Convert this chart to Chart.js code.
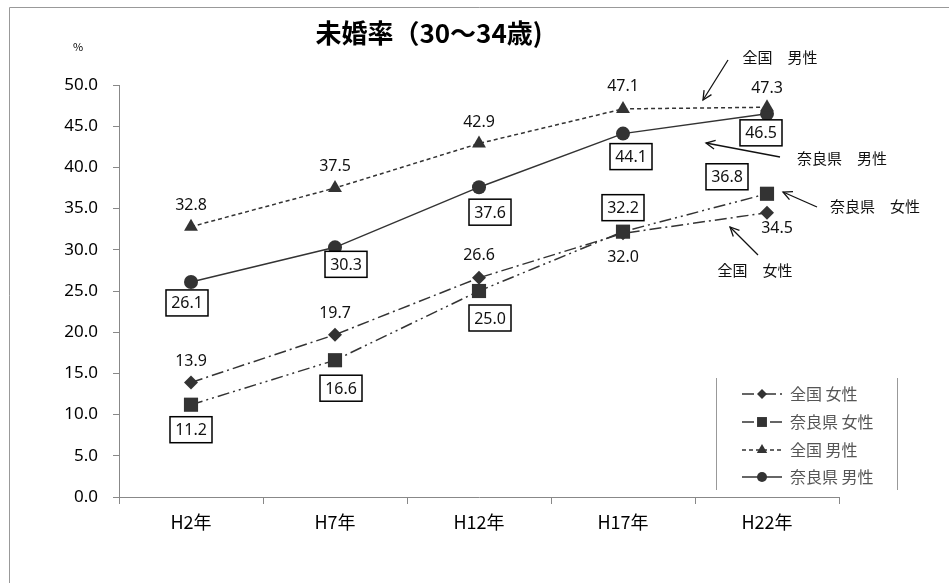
<!DOCTYPE html>
<html>
<head>
<meta charset="utf-8">
<script src="https://cdn.jsdelivr.net/npm/chart.js@4.4.1/dist/chart.umd.min.js"></script>
<style>
  html, body { margin: 0; padding: 0; background: #fff; }
  #wrap { position: relative; width: 949px; height: 583px; }
</style>
</head>
<body>
<div id="wrap"><canvas id="c" width="949" height="583"></canvas></div>
<script>
// 未婚率（30～34歳）: 全国／奈良県, 男性／女性
const categories = ['H2年', 'H7年', 'H12年', 'H17年', 'H22年'];
const zenkokuJosei = [13.9, 19.7, 26.6, 32.0, 34.5];
const naraJosei    = [11.2, 16.6, 25.0, 32.2, 36.8];
const zenkokuDansei = [32.8, 37.5, 42.9, 47.1, 47.3];
const naraDansei    = [26.1, 30.3, 37.6, 44.1, 46.5];
const yTicks = [0, 5, 10, 15, 20, 25, 30, 35, 40, 45, 50];

const JP = '"Noto Sans CJK JP", "Noto Sans", sans-serif';
const NUM = '"Noto Sans", "Open Sans", sans-serif';
const INK = '#333';

// value label placement (offset from the point, boxed or plain)
const labelOffsets = [
  { dx: [0, 0, 0, 0, 10], dy: [-22, -22, -23, 23, 15], boxed: false },
  { dx: [0, 6, 11, 0, -40], dy: [25, 28, 27, -24, -17], boxed: true },
  { dx: [0, 0, 0, 0, 0], dy: [-22, -23, -22, -23, -20], boxed: false },
  { dx: [-4, 11, 11, 8, -6], dy: [21, 17, 25, 23, 19], boxed: true }
];

const series = [
  { label: '全国 女性', data: zenkokuJosei, pointStyle: 'rectRot', pointRadius: 7, borderDash: [12, 4, 2, 4], legendRadius: 5 },
  { label: '奈良県 女性', data: naraJosei, pointStyle: 'rect', pointRadius: 10, borderDash: [12, 4, 2, 4, 2, 4], legendRadius: 7 },
  { label: '全国 男性', data: zenkokuDansei, pointStyle: 'triangle', pointRadius: 8, borderDash: [4, 3], legendRadius: 6 },
  { label: '奈良県 男性', data: naraDansei, pointStyle: 'circle', pointRadius: 7, borderDash: [], legendRadius: 5 }
];

// callouts naming each line: text position, arrow tail and head
const callouts = [
  { text: '全国　男性', tx: 780, ty: 57, x1: 728, y1: 60, x2: 703, y2: 100 },
  { text: '奈良県　男性', tx: 842, ty: 158, x1: 780, y1: 157, x2: 706, y2: 143 },
  { text: '奈良県　女性', tx: 875, ty: 206, x1: 817, y1: 207, x2: 783, y2: 192 },
  { text: '全国　女性', tx: 755, ty: 270, x1: 758, y1: 255, x2: 730, y2: 227 }
];

const decorations = {
  id: 'decorations',
  afterDatasetsDraw(chart) {
    const ctx = chart.ctx;
    ctx.save();
    // frame
    ctx.strokeStyle = '#999';
    ctx.lineWidth = 1;
    ctx.beginPath();
    ctx.moveTo(9.5, 590); ctx.lineTo(9.5, 7.5); ctx.lineTo(960, 7.5);
    ctx.stroke();

    // title
    ctx.fillStyle = '#000';
    ctx.font = 'bold 26px ' + JP;
    ctx.textAlign = 'center';
    ctx.textBaseline = 'middle';
    ctx.fillText('未婚率（30～34歳)', 429, 33);

    ctx.font = '11px ' + JP;
    ctx.fillText('%', 78, 47);

    // value labels
    chart.data.datasets.forEach((ds, i) => {
      const meta = chart.getDatasetMeta(i);
      const lo = labelOffsets[i];
      meta.data.forEach((pt, j) => {
        const x = pt.x + lo.dx[j];
        const y = pt.y + lo.dy[j];
        const txt = ds.data[j].toFixed(1);
        ctx.font = '16px ' + NUM;
        ctx.textAlign = 'center';
        ctx.textBaseline = 'middle';
        if (lo.boxed) {
          const w = 42, h = 26;
          ctx.fillStyle = '#fff';
          ctx.fillRect(x - w / 2, y - h / 2, w, h);
          ctx.strokeStyle = '#000';
          ctx.lineWidth = 1.5;
          ctx.strokeRect(x - w / 2, y - h / 2, w, h);
        }
        ctx.fillStyle = '#111';
        ctx.fillText(txt, x, y + 1);
      });
    });

    // callouts
    ctx.strokeStyle = '#111';
    ctx.fillStyle = '#111';
    ctx.lineWidth = 1.3;
    callouts.forEach(c => {
      ctx.beginPath();
      ctx.moveTo(c.x1, c.y1); ctx.lineTo(c.x2, c.y2);
      ctx.stroke();
      const a = Math.atan2(c.y2 - c.y1, c.x2 - c.x1);
      const L = 10;
      ctx.beginPath();
      ctx.moveTo(c.x2 - L * Math.cos(a - 0.45), c.y2 - L * Math.sin(a - 0.45));
      ctx.lineTo(c.x2, c.y2);
      ctx.lineTo(c.x2 - L * Math.cos(a + 0.45), c.y2 - L * Math.sin(a + 0.45));
      ctx.stroke();
      ctx.font = '15px ' + JP;
      ctx.textAlign = 'center';
      ctx.textBaseline = 'middle';
      ctx.fillText(c.text, c.tx, c.ty);
    });

    // legend
    ctx.strokeStyle = '#999';
    ctx.lineWidth = 1;
    ctx.beginPath();
    ctx.moveTo(716.5, 378); ctx.lineTo(716.5, 490);
    ctx.moveTo(897.5, 378); ctx.lineTo(897.5, 490);
    ctx.stroke();
    const rows = [394, 422, 450, 477];
    chart.data.datasets.forEach((ds, i) => {
      const y = rows[i];
      ctx.strokeStyle = INK;
      ctx.lineWidth = 1.5;
      ctx.setLineDash(ds.borderDash);
      ctx.beginPath();
      ctx.moveTo(742, y); ctx.lineTo(782, y);
      ctx.stroke();
      ctx.setLineDash([]);
      ctx.fillStyle = INK;
      Chart.helpers.drawPoint(ctx, { pointStyle: ds.pointStyle, radius: series[i].legendRadius, borderWidth: 0 }, 762, y);
      ctx.fillStyle = '#555';
      ctx.font = '16px ' + JP;
      ctx.textAlign = 'left';
      ctx.textBaseline = 'middle';
      ctx.fillText(ds.label, 790, y);
    });
    ctx.restore();
  }
};

new Chart(document.getElementById('c'), {
  type: 'line',
  data: {
    labels: categories,
    datasets: series.map(s => ({
      label: s.label,
      data: s.data,
      borderColor: INK,
      backgroundColor: INK,
      pointBackgroundColor: INK,
      pointBorderColor: INK,
      pointBorderWidth: 0,
      borderWidth: 1.5,
      borderDash: s.borderDash,
      pointStyle: s.pointStyle,
      pointRadius: s.pointRadius,
      tension: 0
    }))
  },
  options: {
    responsive: false,
    animation: false,
    devicePixelRatio: 1,
    layout: { padding: { left: 0, top: 85, right: 110, bottom: 0 } },
    plugins: { legend: { display: false }, tooltip: { enabled: false } },
    scales: {
      x: {
        offset: true,
        grid: { offset: true, drawOnChartArea: false, drawTicks: true, tickLength: 7, color: '#888' },
        border: { color: '#888', width: 1 },
        ticks: { color: '#000', font: { family: JP, size: 18 }, padding: 7 },
        afterFit(s) { s.height = 86; }
      },
      y: {
        min: 0, max: 50,
        afterBuildTicks(s) { s.ticks = yTicks.map(v => ({ value: v })); },
        grid: { drawOnChartArea: false, drawTicks: true, tickLength: 6, color: '#888' },
        border: { color: '#888', width: 1 },
        ticks: { color: '#000', font: { family: NUM, size: 17 }, padding: 15, callback: v => v.toFixed(1) },
        afterFit(s) { s.width = 119; }
      }
    }
  },
  plugins: [decorations]
});
</script>
</body>
</html>
